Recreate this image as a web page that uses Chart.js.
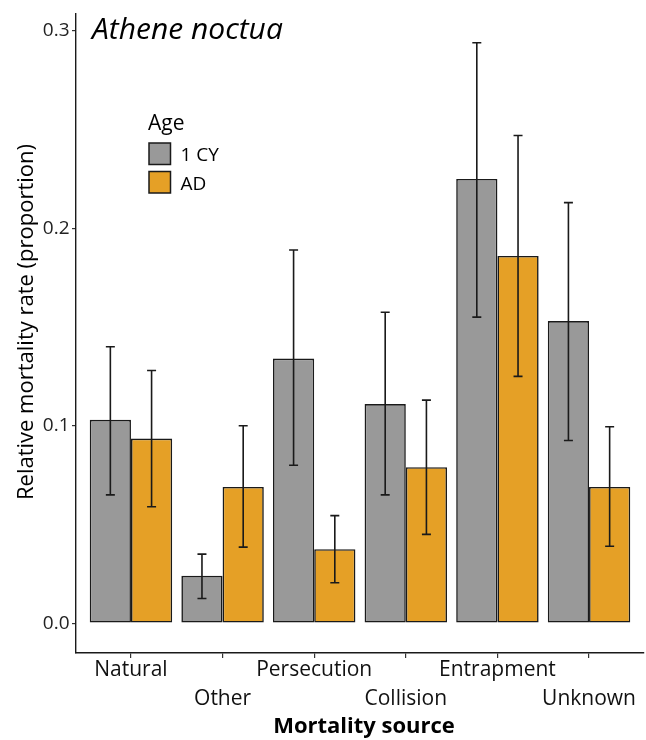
<!DOCTYPE html>
<html>
<head>
<meta charset="utf-8">
<script src="https://cdn.jsdelivr.net/npm/chart.js@4.4.1/dist/chart.umd.min.js"></script>
<style>
  body { margin: 0; background: #fff; }
  canvas { display: block; }
</style>
</head>
<body>
<canvas id="chart" width="646" height="740"></canvas>
<script>
const categories = ["Natural", "Other", "Persecution", "Collision", "Entrapment", "Unknown"];
const cy1 = [0.103, 0.024, 0.134, 0.111, 0.225, 0.153];
const cy1Lo = [0.065, 0.0125, 0.080, 0.065, 0.155, 0.0925];
const cy1Hi = [0.140, 0.035, 0.189, 0.1575, 0.294, 0.213];
const ad = [0.0935, 0.069, 0.0375, 0.079, 0.186, 0.069];
const adLo = [0.059, 0.0385, 0.0205, 0.045, 0.125, 0.039];
const adHi = [0.128, 0.100, 0.0545, 0.113, 0.247, 0.0995];
const yTicks = [0, 0.1, 0.2, 0.3];

const FONT = "'Open Sans', sans-serif";
const INK = "#1a1a1a";

// error bars on top of the bars
const errorBars = {
  id: "errorBars",
  afterDatasetsDraw(c) {
    const ctx = c.ctx, y = c.scales.y;
    c.data.datasets.forEach((ds, i) => {
      c.getDatasetMeta(i).data.forEach((bar, j) => {
        const top = y.getPixelForValue(ds.hi[j]);
        const bot = y.getPixelForValue(ds.lo[j]);
        ctx.save();
        ctx.strokeStyle = INK;
        ctx.lineWidth = 1.6;
        ctx.beginPath();
        ctx.moveTo(bar.x, top); ctx.lineTo(bar.x, bot);
        ctx.moveTo(bar.x - 4.5, top); ctx.lineTo(bar.x + 4.5, top);
        ctx.moveTo(bar.x - 4.5, bot); ctx.lineTo(bar.x + 4.5, bot);
        ctx.stroke();
        ctx.restore();
      });
    });
  }
};

// title, legend and axis titles
const decor = {
  id: "decor",
  afterDraw(c) {
    const ctx = c.ctx;
    ctx.save();
    ctx.fillStyle = "#000";
    ctx.textBaseline = "alphabetic";
    ctx.textAlign = "left";
    ctx.font = "italic 30px " + FONT;
    ctx.fillText("Athene noctua", 92, 39);

    ctx.font = "21px " + FONT;
    ctx.fillText("Age", 148, 130);
    ctx.font = "19px " + FONT;
    c.data.datasets.forEach((ds, i) => {
      const y0 = 143 + i * 28.5;
      ctx.fillStyle = ds.backgroundColor;
      ctx.fillRect(149, y0, 21.5, 21.5);
      ctx.strokeStyle = INK;
      ctx.lineWidth = 1.5;
      ctx.strokeRect(149, y0, 21.5, 21.5);
      ctx.fillStyle = "#000";
      ctx.fillText(ds.label, 180.5, y0 + 18.3);
    });

    ctx.textAlign = "center";
    ctx.font = "bold 22px " + FONT;
    ctx.fillText("Mortality source", 364, 733);

    ctx.translate(33, 322);
    ctx.rotate(-Math.PI / 2);
    ctx.font = "22px " + FONT;
    ctx.fillText("Relative mortality rate (proportion)", 0, 0);
    ctx.restore();
  }
};

const toPoints = arr => arr.map((v, i) => ({ x: i, y: v }));

new Chart(document.getElementById("chart"), {
  type: "bar",
  data: {
    datasets: [
      { label: "1 CY", data: toPoints(cy1), lo: cy1Lo, hi: cy1Hi, backgroundColor: "#999999" },
      { label: "AD", data: toPoints(ad), lo: adLo, hi: adHi, backgroundColor: "#E5A026" }
    ]
  },
  options: {
    responsive: false,
    animation: false,
    layout: { padding: { top: 12, right: 2, left: 0, bottom: 0 } },
    datasets: {
      bar: {
        borderColor: INK,
        borderWidth: 1.6,
        borderSkipped: false,
        categoryPercentage: 0.9,
        barPercentage: 1
      }
    },
    plugins: { legend: { display: false }, tooltip: { enabled: false } },
    scales: {
      x: {
        type: "linear",
        offset: false,
        min: -0.6,
        max: 5.6,
        afterBuildTicks: s => { s.ticks = categories.map((_, i) => ({ value: i })); },
        afterFit: s => { s.height = 87; },
        grid: { display: true, offset: false, drawOnChartArea: false, drawTicks: true, tickLength: 5, color: "#333", lineWidth: 1.2 },
        border: { display: true, color: INK, width: 1.4 },
        ticks: {
          autoSkip: false,
          maxRotation: 0,
          padding: -3,
          color: "#111",
          font: { family: FONT, size: 21, lineHeight: 1.4 },
          callback: v => (v % 2 === 0 ? [categories[v]] : ["", categories[v]])
        }
      },
      y: {
        min: -0.0151,
        max: 0.3086,
        afterBuildTicks: s => { s.ticks = yTicks.map(v => ({ value: v })); },
        afterFit: s => { s.width = 76; },
        grid: { display: true, drawOnChartArea: false, drawTicks: true, tickLength: 4, color: "#333", lineWidth: 1.2 },
        border: { display: true, color: INK, width: 1.4 },
        ticks: {
          padding: 2.5,
          color: "#222",
          font: { family: FONT, size: 19 },
          callback: v => v.toFixed(1)
        }
      }
    }
  },
  plugins: [errorBars, decor]
});
</script>
</body>
</html>
